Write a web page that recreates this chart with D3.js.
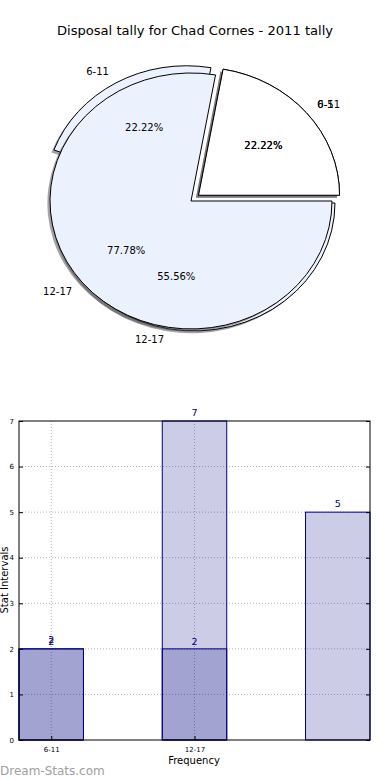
<!DOCTYPE html>
<html>
<head>
<meta charset="utf-8">
<script src="https://cdn.jsdelivr.net/npm/d3@7"></script>
<style>
  body { margin: 0; background: #fff; }
  text { font-family: "DejaVu Sans", sans-serif; }
</style>
</head>
<body>
<div id="chart"></div>
<script>
// pie data (two pies drawn over each other)
const pieALabels = ['6-11', '12-17'];
const pieAValues = [2, 7];
const pieBLabels = ['0-5', '6-11', '12-17'];
const pieBValues = [2, 2, 5];

// bar data
const barTicks = ['6-11', '12-17'];
const barSeries1 = [2, 2];
const barSeries2 = [2, 7, 5];
const yTicks = [0, 1, 2, 3, 4, 5, 6, 7];

const W = 390, H = 780;
const svg = d3.select('#chart').append('svg')
  .attr('width', W)
  .attr('height', H);

svg.append('rect').attr('width', W).attr('height', H).attr('fill', '#fff');

svg.append('text')
  .attr('x', 195).attr('y', 35)
  .attr('text-anchor', 'middle')
  .attr('font-size', 13.1)
  .text('Disposal tally for Chad Cornes - 2011 tally');

// ---- pies ----
const cx = 191, cy = 201, rx = 141, ry = 128;
const pieColors = ['#ffffff', '#ebf1fd', '#ebf1fd'];
const wedgeLayer = svg.append('g');
const textLayer = svg.append('g');

function drawPie(labels, values, explode, nudge) {
  const arcs = d3.pie().sort(null).startAngle(0).endAngle(2 * Math.PI)(values);
  const total = d3.sum(values);
  const unitArc = d3.arc().innerRadius(0).outerRadius(1);
  const g = wedgeLayer.append('g');

  arcs.forEach(function(a, i) {
    // matplotlib goes counter clockwise from east
    const t0 = a.startAngle, t1 = a.endAngle, tm = (t0 + t1) / 2;
    const n = nudge[i] || [0, 0];
    const ox = explode[i] * rx * Math.cos(tm) + n[0];
    const oy = -explode[i] * ry * Math.sin(tm) + n[1];
    const path = unitArc({ startAngle: Math.PI / 2 - t0, endAngle: Math.PI / 2 - t1 });

    // shadow
    g.append('path')
      .attr('d', path)
      .attr('transform', 'translate(' + (cx + ox - 2.6) + ',' + (cy + oy + 2.4) + ') scale(' + rx + ',' + ry + ')')
      .attr('fill', '#4a4a50')
      .attr('fill-opacity', 0.5);

    g.append('path')
      .attr('d', path)
      .attr('transform', 'translate(' + (cx + ox) + ',' + (cy + oy) + ') scale(' + rx + ',' + ry + ')')
      .attr('fill', pieColors[i])
      .attr('stroke', '#000')
      .attr('stroke-width', 1)
      .attr('vector-effect', 'non-scaling-stroke');
  });

  arcs.forEach(function(a, i) {
    const tm = (a.startAngle + a.endAngle) / 2;
    const ox = explode[i] * rx * Math.cos(tm);
    const oy = -explode[i] * ry * Math.sin(tm);
    const c = Math.cos(tm), s = Math.sin(tm);
    textLayer.append('text')
      .attr('x', cx + ox + 1.1 * rx * c)
      .attr('y', cy + oy - 1.1 * ry * s)
      .attr('dy', '0.35em')
      .attr('text-anchor', c > 0 ? 'start' : 'end')
      .attr('font-size', 10)
      .text(labels[i]);
    textLayer.append('text')
      .attr('x', cx + ox + 0.6 * rx * c)
      .attr('y', cy + oy - 0.6 * ry * s)
      .attr('dy', '0.35em')
      .attr('text-anchor', 'middle')
      .attr('font-size', 10)
      .text((values[i] / total * 100).toFixed(2) + '%');
  });
}

drawPie(pieBLabels, pieBValues, [0.07, 0.065, 0], [[0, 0], [0, 0], [3, 2]]);
drawPie(pieALabels, pieAValues, [0.07, 0], []);

// ---- bar chart ----
const plotL = 19, plotR = 370, plotT = 421, plotB = 740;
const barW = 0.45;
const x = d3.scaleLinear().domain([-barW / 2, 2 + barW / 2]).range([plotL, plotR]);
const y = d3.scaleLinear().domain([0, 7]).range([plotB, plotT]);

const grid = svg.append('g')
  .attr('stroke', '#b4b4b4')
  .attr('stroke-dasharray', '1,2')
  .attr('stroke-width', 1);
yTicks.slice(1, -1).forEach(function(v) {
  grid.append('line').attr('x1', plotL).attr('x2', plotR).attr('y1', y(v)).attr('y2', y(v));
});
barTicks.forEach(function(t, i) {
  grid.append('line').attr('x1', x(i)).attr('x2', x(i)).attr('y1', plotT).attr('y2', plotB);
});

function drawBars(vals, dy) {
  const bg = svg.append('g');
  bg.selectAll('rect')
    .data(vals)
    .enter().append('rect')
    .attr('x', function(d, i) { return x(i - barW / 2); })
    .attr('width', function() { return x(barW) - x(0); })
    .attr('y', function(d) { return y(d); })
    .attr('height', function(d) { return y(0) - y(d); })
    .attr('fill', '#000080')
    .attr('fill-opacity', 0.2)
    .attr('stroke', '#000080')
    .attr('stroke-width', 1);
  bg.selectAll('text')
    .data(vals)
    .enter().append('text')
    .attr('x', function(d, i) { return x(i); })
    .attr('y', function(d) { return y(d) - dy; })
    .attr('text-anchor', 'middle')
    .attr('font-size', 9.5)
    .attr('fill', '#000080')
    .text(function(d) { return d; });
}
drawBars(barSeries1, 4);
drawBars(barSeries2, 5.5);

// frame
svg.append('rect')
  .attr('x', plotL).attr('y', plotT)
  .attr('width', plotR - plotL).attr('height', plotB - plotT)
  .attr('fill', 'none')
  .attr('stroke', '#000')
  .attr('stroke-width', 1);

// axes ticks
const yAxisL = d3.axisLeft(y).tickValues(yTicks).tickSize(-4).tickPadding(5).tickFormat(d3.format('d'));
const yAxisR = d3.axisRight(y).tickValues(yTicks).tickSize(-4).tickFormat('');
const xAxisB = d3.axisBottom(x).tickValues([0, 1]).tickSize(-4).tickPadding(7)
  .tickFormat(function(d) { return barTicks[d]; });

function styleAxis(g) {
  g.select('.domain').remove();
  g.selectAll('.tick line').attr('stroke', '#000');
  g.selectAll('.tick text').attr('font-size', 7).attr('font-family', '"DejaVu Sans", sans-serif').attr('fill', '#000');
}
svg.append('g').attr('transform', 'translate(' + plotL + ',0)').call(yAxisL).call(styleAxis);
svg.append('g').attr('transform', 'translate(' + plotR + ',0)').call(yAxisR).call(styleAxis);
svg.append('g').attr('transform', 'translate(0,' + plotB + ')').call(xAxisB).call(styleAxis);

svg.append('text')
  .attr('x', 194).attr('y', 764)
  .attr('text-anchor', 'middle')
  .attr('font-size', 10)
  .text('Frequency');

svg.append('text')
  .attr('transform', 'translate(8,580) rotate(-90)')
  .attr('text-anchor', 'middle')
  .attr('font-size', 10)
  .text('Stat Intervals');

svg.append('text')
  .attr('x', 0).attr('y', 775)
  .attr('font-size', 12)
  .attr('fill', '#a0a0a0')
  .text('Dream-Stats.com');
</script>
</body>
</html>
